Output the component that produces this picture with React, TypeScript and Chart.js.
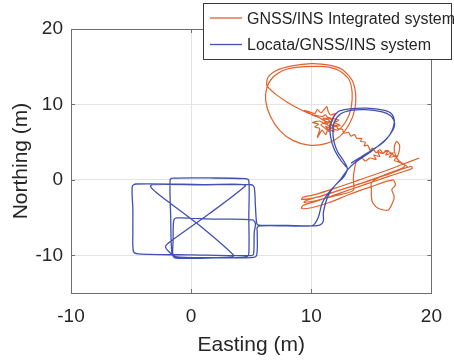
import React, { useEffect, useRef } from "react";
import { Chart, registerables } from "chart.js";

Chart.register(...registerables);

const xTickValues = [-10, 0, 10, 20];
const yTickValues = [-10, 0, 10, 20];
const xRange = [-10, 20];
const yRange = [-15, 20];
const seriesNames = ["GNSS/INS Integrated system", "Locata/GNSS/INS system"];
const xTitle = "Easting (m)";
const yTitle = "Northing (m)";

// GNSS/INS integrated trajectory [easting, northing]
const gnssInsPath: number[][] = [
  [19.0, 2.9], [17.5, 2.0], [16.0, 1.1], [14.0, 0.0], [12.0, -1.1], [10.2, -2.0], [9.3, -2.3], [9.2, -2.6],
  [10.5, -2.3], [12.5, -1.3], [14.5, -0.3], [16.5, 0.8], [18.3, 1.8], [18.4, 1.5], [16.5, 0.5], [14.5, -0.6],
  [12.5, -1.7], [10.5, -2.8], [9.3, -3.4], [9.2, -3.8], [10.0, -3.7], [11.5, -3.0], [13.2, -1.9], [15.0, -0.9],
  [16.8, 0.0], [17.0, -0.7], [16.7, -1.3], [16.9, -2.2], [16.8, -2.9], [16.4, -4.0], [15.6, -3.8], [15.1, -3.0],
  [15.0, -2.2], [15.0, -1.2], [15.0, -0.4], [15.6, 0.3], [17.2, 1.3], [18.0, 1.7], [17.4, 2.3],
  [16.9, 2.6], [17.2, 3.2], [16.5, 3.0], [16.8, 3.6], [16.2, 3.3], [16.4, 3.9], [15.9, 3.5], [15.5, 3.8],
  [15.7, 3.1], [15.2, 3.3], [15.4, 2.7], [14.9, 2.9], [14.5, 2.5], [14.2, 2.9], [13.8, 2.6],
  [13.6, 1.5], [13.5, 0.2], [13.5, -1.4], [12.0, -2.1], [10.5, -2.7], [9.4, -3.0], [9.5, -2.8], [11.5, -1.8],
  [13.5, -0.8], [15.5, 0.3], [17.5, 1.5], [17.8, 1.9], [17.3, 2.5],
  [17.0, 3.3], [16.9, 4.3], [17.1, 5.1], [17.35, 4.6], [17.3, 3.7], [17.1, 3.0],
  [16.6, 3.6], [16.2, 3.9], [16.0, 3.5], [15.7, 4.0], [15.4, 3.6], [15.1, 4.2], [14.9, 3.9], [14.7, 4.6],
  [14.4, 4.5], [14.5, 5.0], [14.1, 5.1], [14.2, 5.5], [13.8, 5.5], [13.6, 6.0], [13.3, 5.8], [13.1, 6.3],
  [12.7, 6.2], [12.6, 6.7], [12.2, 6.8], [12.1, 7.2], [11.8, 7.2], [11.5, 7.6],
  [11.0, 7.9], [10.6, 8.3], [10.2, 8.5], [9.8, 8.9], [9.4, 9.2], [9.9, 9.0], [10.3, 8.8], [10.5, 9.3],
  [10.8, 8.9], [11.1, 9.4], [11.3, 9.7], [11.4, 9.1], [11.6, 8.6], [12.0, 8.8], [11.8, 8.2], [12.3, 7.9],
  [11.9, 7.6], [12.4, 7.2], [11.8, 7.0], [11.9, 6.4], [11.4, 6.7], [11.2, 6.0], [10.9, 6.6], [10.5, 5.6],
  [10.7, 6.8], [10.3, 7.0], [10.6, 7.4], [10.1, 7.6], [10.7, 7.8], [11.2, 7.4], [11.5, 7.9], [11.0, 8.2],
  [11.3, 7.5], [11.7, 7.9], [11.4, 8.3], [11.8, 8.0], [11.5, 7.2], [11.9, 7.3], [11.6, 6.8], [11.2, 7.1],
  [11.5, 6.4], [11.1, 6.9], [10.8, 7.3], [11.2, 7.7], [10.9, 8.0], [11.4, 8.0], [11.6, 7.5], [11.2, 8.6],
  [10.9, 8.4],
  [10.0, 8.7], [9.0, 9.4], [8.0, 10.3], [7.0, 11.4], [6.3, 12.5], [6.4, 13.6], [7.1, 14.5], [8.4, 15.1],
  [10.0, 15.4], [11.5, 15.2], [12.6, 14.6], [13.4, 13.2], [13.7, 11.2], [13.6, 9.2], [13.2, 7.5], [12.4, 5.8],
  [11.2, 4.8], [9.8, 4.6], [8.5, 5.2], [7.4, 6.5], [6.6, 8.4], [6.2, 10.5], [6.3, 12.2], [6.8, 13.6],
  [7.8, 14.6], [9.5, 15.0], [11.1, 15.0], [12.3, 14.5], [13.1, 13.4], [13.4, 11.6], [13.3, 9.4], [12.9, 7.8],
  [12.2, 6.6], [11.4, 7.2], [11.1, 7.8],
];

// Locata/GNSS/INS trajectory [easting, northing]
const locataPath: number[][] = [
  [13.3, 2.2], [14.2, 3.1], [15.2, 4.1], [16.0, 5.0], [16.5, 5.9], [16.9, 7.0], [16.9, 7.8], [16.6, 8.5],
  [15.9, 9.0], [14.5, 9.3], [13.3, 9.2], [12.4, 8.7], [11.9, 7.6], [11.8, 6.4], [11.9, 5.0], [12.2, 3.7],
  [12.7, 2.5], [13.0, 1.5], [12.7, 0.4], [12.0, -0.7], [11.5, -1.8], [11.2, -3.0], [11.0, -4.4], [11.0, -5.5],
  [10.7, -6.0], [10.0, -6.1], [8.0, -6.05], [5.6, -6.0],
  [5.45, -5.7], [5.35, -3.5], [5.25, -1.0], [5.0, -0.65], [1.0, -0.62], [-4.6, -0.55], [-4.9, -0.85],
  [-4.85, -4.0], [-4.85, -7.0], [-4.8, -9.5], [-4.4, -9.8], [0.0, -9.95], [5.0, -10.05], [5.2, -9.8],
  [5.25, -7.0], [5.35, -5.8], [5.1, -5.3],
  [2.0, -5.2], [-1.2, -5.05], [-1.45, -5.4], [-1.5, -8.0], [-1.5, -10.1], [-1.1, -10.4], [2.0, -10.35],
  [4.6, -10.2], [4.8, -9.8],
  [4.8, -5.0], [4.8, -0.1], [4.5, 0.15], [1.5, 0.25], [-1.5, 0.22], [-1.75, 0.0], [-1.7, -5.0], [-1.6, -9.8],
  [-1.3, -10.3], [1.0, -10.3], [3.3, -10.25], [3.54, -10.0], [0.5, -5.8], [-2.83, -1.77], [-3.38, -0.88],
  [-3.2, -0.62], [1.0, -0.65], [4.3, -0.62], [4.51, -0.8], [1.5, -4.5], [-1.72, -8.18], [-2.13, -8.84],
  [-1.86, -9.5], [-1.3, -10.17], [2.0, -10.3], [5.0, -10.3], [5.45, -10.0], [5.5, -7.0], [5.5, -6.3],
  [5.8, -6.1], [8.0, -6.1], [10.0, -6.1],
  [10.3, -5.8], [10.6, -4.9], [10.9, -3.1], [11.4, -1.8], [12.4, 0.0], [13.0, 1.3], [13.5, 2.1], [15.0, 3.8],
  [16.4, 5.7], [16.9, 7.5], [16.7, 8.7], [16.1, 9.2], [14.6, 9.5], [13.2, 9.4], [12.2, 9.0], [11.6, 7.3],
  [11.6, 5.8], [11.9, 4.1], [12.5, 2.5], [13.0, 1.6],
];

const orange = "#E2602A";
const blue = "#4150B2";
const textColor = "#262626";
const fontFamily = "'Liberation Sans', Arial, sans-serif";

const framePlugin = {
  id: "frameAndLegend",
  afterDraw(chart: any) {
    const { ctx, chartArea } = chart;
    const { left, right, top, bottom } = chartArea;
    const xs = chart.scales.x;
    const ys = chart.scales.y;
    ctx.save();
    ctx.strokeStyle = "#6e6e6e";
    ctx.lineWidth = 1;
    ctx.strokeRect(Math.round(left) + 0.5, Math.round(top) + 0.5, Math.round(right - left), Math.round(bottom - top));
    ctx.beginPath();
    xTickValues.forEach((v) => {
      const px = Math.round(xs.getPixelForValue(v)) + 0.5;
      ctx.moveTo(px, bottom);
      ctx.lineTo(px, bottom - 4);
      ctx.moveTo(px, top);
      ctx.lineTo(px, top + 4);
    });
    yTickValues.forEach((v) => {
      const py = Math.round(ys.getPixelForValue(v)) + 0.5;
      ctx.moveTo(left, py);
      ctx.lineTo(left + 4, py);
      ctx.moveTo(right, py);
      ctx.lineTo(right - 4, py);
    });
    ctx.stroke();

    // legend
    const lx = 203, ly = 3, lw = 249, lh = 57;
    ctx.fillStyle = "#ffffff";
    ctx.fillRect(lx, ly, lw, lh);
    ctx.strokeStyle = "#3a3a3a";
    ctx.strokeRect(lx + 0.5, ly + 0.5, lw - 1, lh - 1);
    const items = [
      { name: seriesNames[0], color: orange, y: 18 },
      { name: seriesNames[1], color: blue, y: 44.5 },
    ];
    ctx.font = `16px ${fontFamily}`;
    ctx.textBaseline = "middle";
    ctx.textAlign = "left";
    items.forEach((it) => {
      ctx.strokeStyle = it.color;
      ctx.lineWidth = 1.3;
      ctx.beginPath();
      ctx.moveTo(210, it.y);
      ctx.lineTo(242, it.y);
      ctx.stroke();
      ctx.fillStyle = textColor;
      ctx.fillText(it.name, 247, it.y + 1.5);
    });
    ctx.restore();
  },
};

export default function App() {
  const canvasRef = useRef<HTMLCanvasElement | null>(null);

  useEffect(() => {
    document.body.style.margin = "0";
    const canvas = canvasRef.current;
    if (!canvas) return;
    const chart = new Chart(canvas, {
      type: "scatter",
      data: {
        datasets: [
          {
            label: seriesNames[0],
            data: gnssInsPath.map(([x, y]) => ({ x, y })),
            showLine: true,
            borderColor: orange,
            backgroundColor: orange,
            borderWidth: 1.2,
            pointRadius: 0,
            tension: 0.25,
            order: 1,
          },
          {
            label: seriesNames[1],
            data: locataPath.map(([x, y]) => ({ x, y })),
            showLine: true,
            borderColor: blue,
            backgroundColor: blue,
            borderWidth: 1.3,
            pointRadius: 0,
            tension: 0.3,
            order: 0,
          },
        ],
      },
      options: {
        animation: false,
        responsive: false,
        devicePixelRatio: 1,
        layout: { padding: { top: 29, right: 22, bottom: 0, left: 0 } },
        plugins: { legend: { display: false }, tooltip: { enabled: false } },
        scales: {
          x: {
            type: "linear",
            min: xRange[0],
            max: xRange[1],
            afterBuildTicks: (s: any) => {
              s.ticks = xTickValues.map((v) => ({ value: v }));
            },
            afterFit: (s: any) => {
              s.height = 68;
            },
            border: { display: false },
            grid: { color: "#e4e4e4", drawTicks: false, lineWidth: 1 },
            ticks: {
              color: textColor,
              font: { family: fontFamily, size: 19 },
              padding: 12,
              maxRotation: 0,
            },
            title: {
              display: true,
              text: xTitle,
              color: textColor,
              font: { family: fontFamily, size: 21 },
              padding: { top: 0, bottom: 3 },
            },
          },
          y: {
            type: "linear",
            min: yRange[0],
            max: yRange[1],
            afterBuildTicks: (s: any) => {
              s.ticks = yTickValues.map((v) => ({ value: v }));
            },
            afterFit: (s: any) => {
              s.width = 71;
            },
            border: { display: false },
            grid: { color: "#e4e4e4", drawTicks: false, lineWidth: 1 },
            ticks: {
              color: textColor,
              font: { family: fontFamily, size: 19 },
              padding: 8,
            },
            title: {
              display: true,
              text: yTitle,
              color: textColor,
              font: { family: fontFamily, size: 21 },
              padding: { top: 9, bottom: 0 },
            },
          },
        },
      },
      plugins: [framePlugin],
    });
    return () => chart.destroy();
  }, []);

  return (
    <div style={{ position: "absolute", left: 0, top: 0, width: 454, height: 361, background: "#fff" }}>
      <canvas ref={canvasRef} width={454} height={361} style={{ width: 454, height: 361, display: "block" }} />
    </div>
  );
}
